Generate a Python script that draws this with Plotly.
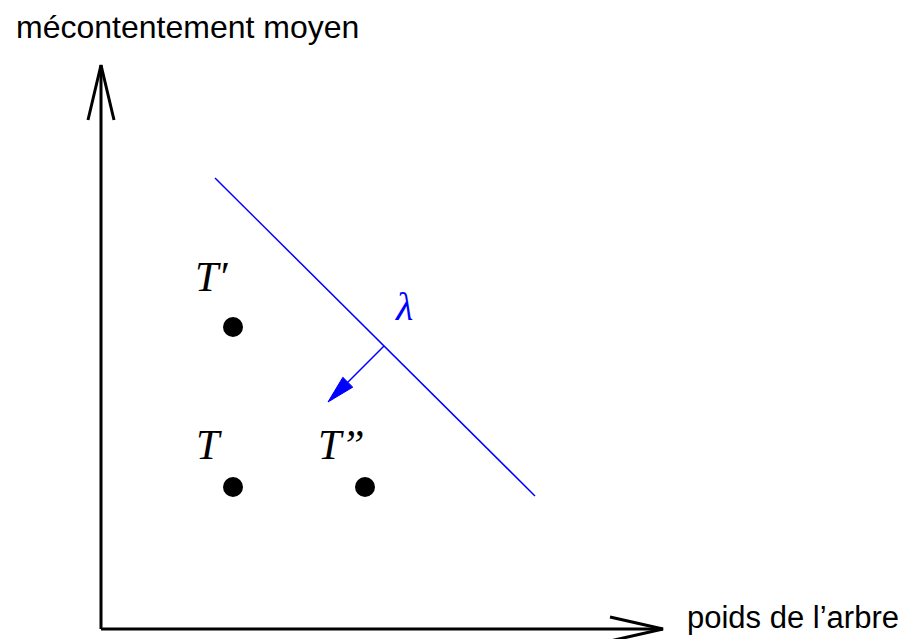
import numpy as np
import plotly.graph_objects as go

# arbres (coordonnées : poids, mécontentement), origine au coin des axes
arbres = ["T", "T′", "T”"]
poids = [132, 132, 264]
mecontentement = [142, 302, 142]

# droite de pente -lambda
droite_x = [114, 434]
droite_y = [451, 133]
# flèche perpendiculaire (pied sur la droite -> pointe)
fleche_x = [283, 227]
fleche_y = [283, 227]
lambda_pos = (303, 323)

# étiquettes des arbres
etiq_x = [108, 110, 240]
etiq_y = [184, 352, 184]

# longueur des axes
axe_x_max = 562
axe_y_max = 564

fig = go.Figure()

fig.add_trace(go.Scatter(
    x=droite_x, y=droite_y, mode="lines",
    line=dict(color="#0000ff", width=1.5), hoverinfo="skip"))

fig.add_trace(go.Scatter(
    x=poids, y=mecontentement, mode="markers",
    marker=dict(color="black", size=20), text=arbres, hoverinfo="text"))

# axes avec pointes ouvertes
fig.add_shape(type="line", x0=0, y0=0, x1=axe_x_max, y1=0,
              line=dict(color="black", width=3))
fig.add_shape(type="line", x0=0, y0=0, x1=0, y1=axe_y_max,
              line=dict(color="black", width=3))
fig.add_shape(type="path",
              path=f"M {axe_x_max-53},12 L {axe_x_max},0 L {axe_x_max-53},-12",
              line=dict(color="black", width=3))
fig.add_shape(type="path",
              path=f"M -13,{axe_y_max-55} L 0,{axe_y_max} L 13,{axe_y_max-55}",
              line=dict(color="black", width=3))

# flèche bleue : tige + tête pleine
p0 = np.array([fleche_x[0], fleche_y[0]], float)
p1 = np.array([fleche_x[1], fleche_y[1]], float)
u = (p1 - p0) / np.linalg.norm(p1 - p0)
n = np.array([-u[1], u[0]])
base = p1 - 28 * u
c1, c2 = base + 7 * n, base - 7 * n
fig.add_shape(type="line", x0=p0[0], y0=p0[1], x1=base[0], y1=base[1],
              line=dict(color="#0000ff", width=1.5))
fig.add_shape(type="path",
              path=f"M {p1[0]},{p1[1]} L {c1[0]},{c1[1]} L {c2[0]},{c2[1]} Z",
              fillcolor="#0000ff", line=dict(color="#0000ff", width=1))

fig.add_annotation(x=lambda_pos[0], y=lambda_pos[1], text="<i>λ</i>", showarrow=False,
                   font=dict(family="Liberation Serif", size=40, color="#0000ff"))

for nom, ex, ey in zip(arbres, etiq_x, etiq_y):
    fig.add_annotation(x=ex, y=ey, text=f"<i>{nom}</i>", showarrow=False,
                       font=dict(family="Liberation Serif", size=42, color="black"))

fig.add_annotation(x=-87, y=602, text="mécontentement moyen", showarrow=False,
                   xanchor="left", font=dict(family="Liberation Sans", size=32, color="black"))
fig.add_annotation(x=584, y=12, text="poids de l’arbre", showarrow=False,
                   xanchor="left", font=dict(family="Liberation Sans", size=31, color="black"))

# la page ajoute une marge de 8 px : la figure commence à (8, 8)
fig.update_xaxes(range=[-93, 808], visible=False)
fig.update_yaxes(range=[-10, 621], visible=False)
fig.update_layout(width=901, height=631, margin=dict(l=0, r=0, t=0, b=0),
                  plot_bgcolor="white", paper_bgcolor="white", showlegend=False)

fig.write_html("out.html")
